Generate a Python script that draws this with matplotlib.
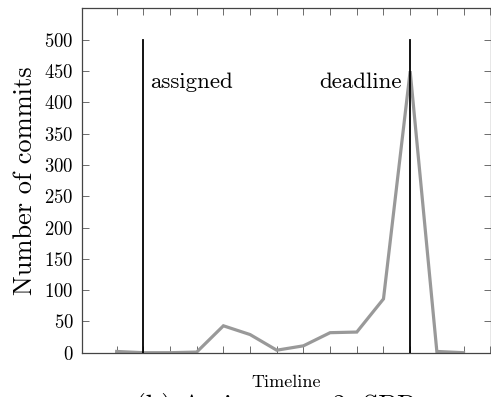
import matplotlib.pyplot as plt

plt.rcParams["font.family"] = ["cmr10", "DejaVu Serif"]
plt.rcParams["mathtext.fontset"] = "cm"
plt.rcParams["axes.formatter.use_mathtext"] = True

# data
days = list(range(14))
commits = [2, 0, 0, 1, 43, 29, 4, 11, 32, 33, 86, 450, 2, 0]
assigned_day = 1
deadline_day = 11
marker_top = 500
y_ticks = list(range(0, 501, 50))
x_ticks = list(range(15))

fig = plt.figure(figsize=(4.91, 3.97), dpi=100)
ax = fig.add_axes([82 / 491, (397 - 352.7) / 397, (491 - 82) / 491, (352.7 - 8) / 397])

# commits line
ax.plot(days, commits, color="#999999", lw=2.3, solid_joinstyle="miter", zorder=2)

# assigned / deadline markers
ax.plot([assigned_day, assigned_day], [0, marker_top], color="black", lw=1.3, zorder=3)
ax.plot([deadline_day, deadline_day], [0, marker_top], color="black", lw=1.3, zorder=3)
ax.annotate("assigned", xy=(assigned_day, 433), xytext=(5, 0), textcoords="offset points",
            ha="left", va="center", fontsize=16.5)
ax.annotate("deadline", xy=(deadline_day, 433), xytext=(-6, 0), textcoords="offset points",
            ha="right", va="center", fontsize=16.5)

ax.set_xlim(-1.3, 14.03)
ax.set_ylim(0, 551)
ax.set_xticks(x_ticks)
ax.set_xticklabels([])
ax.set_yticks(y_ticks)
ax.tick_params(axis="both", direction="in", length=5, width=0.6, color="#555555",
               top=True, right=True, labelsize=13.5, pad=6)
for s in ax.spines.values():
    s.set_color("#444444")
    s.set_linewidth(0.9)

ax.set_ylabel("Number of commits", fontsize=19, labelpad=5)
ax.set_xlabel("Timeline", fontsize=13, labelpad=10)
fig.text(0.563, (397 - 392.5) / 397, "(b) Assignment 2: SPR", ha="center", va="top", fontsize=20)

fig.savefig("out.png", dpi=100)
